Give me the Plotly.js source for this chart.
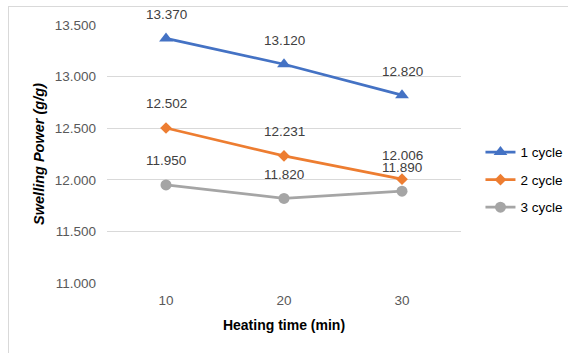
<!DOCTYPE html>
<html>
<head>
<meta charset="utf-8">
<script src="https://cdn.plot.ly/plotly-3.0.1.min.js"></script>
<style>
  html, body { margin: 0; padding: 0; background: #ffffff; overflow: hidden; }
  #frame { position: absolute; left: 8px; top: 6px; width: 620px; height: 420px;
           border: 1.5px solid #d9d9d9; box-sizing: border-box; }
  #chart { position: absolute; left: 0; top: 0; width: 568px; height: 353px; }
</style>
</head>
<body>
<div id="frame"></div>
<div id="chart"></div>
<script>
// Heating time categories (min)
const heatingTimes = ['10', '20', '30'];

// Swelling power (g/g) per number of heating cycles
const cycle1 = [13.370, 13.120, 12.820];
const cycle2 = [12.502, 12.231, 12.006];
const cycle3 = [11.950, 11.820, 11.890];

const seriesNames = ['1 cycle', '2 cycle', '3 cycle'];
const seriesValues = [cycle1, cycle2, cycle3];
const seriesColors = ['#4472C4', '#ED7D31', '#A5A5A5'];
const seriesSymbols = ['triangle-up', 'diamond', 'circle'];
const seriesSizes = [12, 9, 11];

const yTicks = [11.0, 11.5, 12.0, 12.5, 13.0, 13.5];

const font = 'Arial, "Liberation Sans", sans-serif';

const traces = seriesValues.map((vals, i) => ({
  type: 'scatter',
  mode: 'lines+markers',
  name: seriesNames[i],
  legendgroup: seriesNames[i],
  x: heatingTimes,
  y: vals,
  line: { color: seriesColors[i], width: 2.75 },
  marker: { color: seriesColors[i], symbol: seriesSymbols[i], size: seriesSizes[i] },
  hoverinfo: 'skip'
}));

// value labels placed above each point (x given as category index)
const annotations = [];
seriesValues.forEach(vals => {
  vals.forEach((v, j) => {
    annotations.push({
      x: j, y: v, xref: 'x', yref: 'y',
      text: v.toFixed(3), showarrow: false, yshift: 24,
      font: { family: font, size: 13.5, color: '#404040' }
    });
  });
});

const layout = {
  width: 568, height: 353,
  margin: { l: 107, r: 107, t: 25, b: 69.5, autoexpand: false },
  paper_bgcolor: 'rgba(0,0,0,0)',
  plot_bgcolor: 'rgba(0,0,0,0)',
  showlegend: true,
  legend: {
    x: 1.055, xanchor: 'left', y: 0.40, yanchor: 'middle',
    font: { family: font, size: 13.5, color: '#000000' },
    tracegroupgap: 7, bgcolor: 'rgba(0,0,0,0)'
  },
  xaxis: {
    type: 'category', range: [-0.5, 2.5],
    showgrid: false, zeroline: false, showline: false,
    ticks: '', ticklabelstandoff: 7,
    tickfont: { family: font, size: 13.5, color: '#595959' },
    title: { text: '<b>Heating time (min)</b>', standoff: 13,
             font: { family: font, size: 14, color: '#000000' } }
  },
  yaxis: {
    range: [11, 13.5], tickvals: yTicks, tickformat: '.3f',
    showgrid: true, gridcolor: '#d9d9d9', gridwidth: 1.2,
    zeroline: false, showline: false, ticks: '',
    ticklabelstandoff: 10,
    tickfont: { family: font, size: 13.5, color: '#595959' },
    title: { text: '<b><i>Swelling Power (g/g)</i></b>', standoff: 6,
             font: { family: font, size: 14.5, color: '#000000' } }
  },
  annotations: annotations
};

Plotly.newPlot('chart', traces, layout, { staticPlot: true, displayModeBar: false });
</script>
</body>
</html>
